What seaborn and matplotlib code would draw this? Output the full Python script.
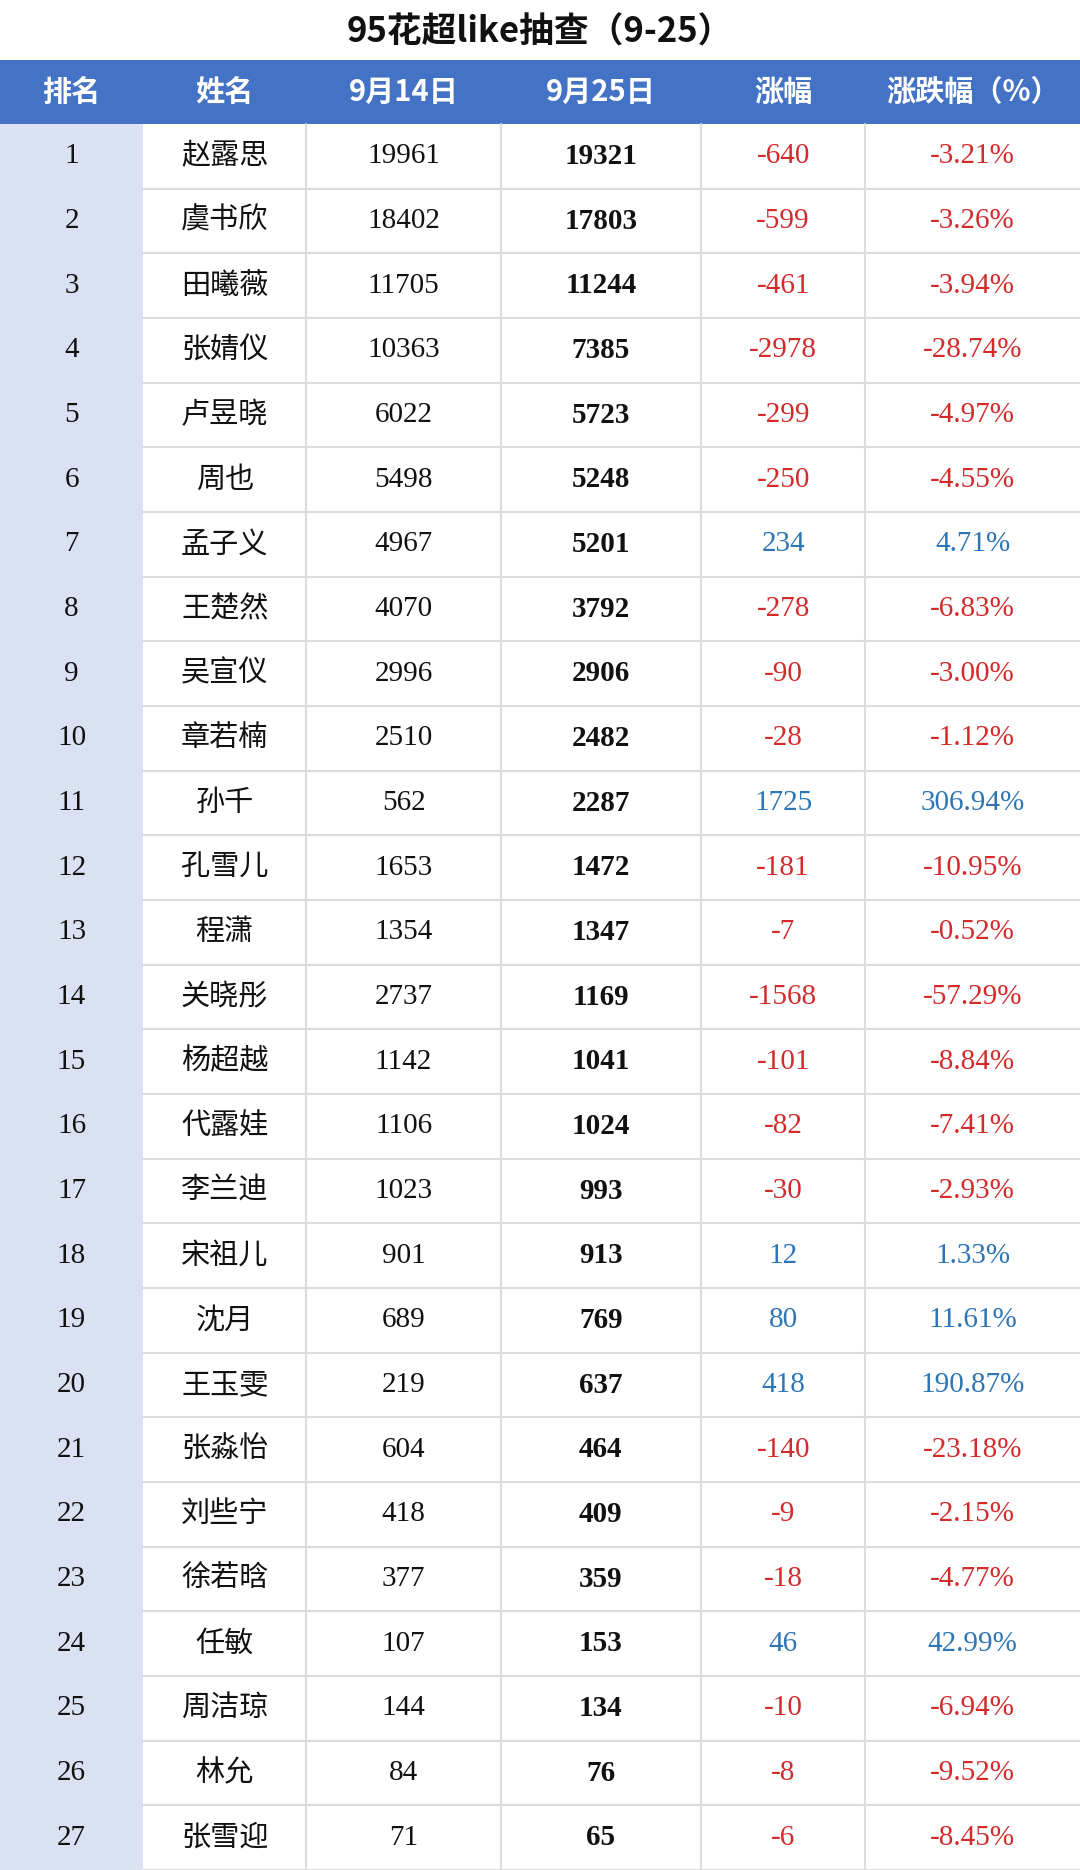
import matplotlib
matplotlib.use("Agg")
import matplotlib.pyplot as plt
import seaborn as sns
from matplotlib.patches import Rectangle

sns.set_theme(style="white")
plt.rcParams['font.family'] = ['Noto Sans CJK SC', 'DejaVu Sans']

title = "95花超like抽查（9-25）"
headers = ["排名", "姓名", "9月14日", "9月25日", "涨幅", "涨跌幅（%）"]
ranks = list(range(1, 28))
names = ["赵露思", "虞书欣", "田曦薇", "张婧仪", "卢昱晓", "周也", "孟子义", "王楚然", "吴宣仪", "章若楠",
         "孙千", "孔雪儿", "程潇", "关晓彤", "杨超越", "代露娃", "李兰迪", "宋祖儿", "沈月", "王玉雯",
         "张淼怡", "刘些宁", "徐若晗", "任敏", "周洁琼", "林允", "张雪迎"]
sep14 = [19961, 18402, 11705, 10363, 6022, 5498, 4967, 4070, 2996, 2510, 562, 1653, 1354, 2737, 1142,
         1106, 1023, 901, 689, 219, 604, 418, 377, 107, 144, 84, 71]
sep25 = [19321, 17803, 11244, 7385, 5723, 5248, 5201, 3792, 2906, 2482, 2287, 1472, 1347, 1169, 1041,
         1024, 993, 913, 769, 637, 464, 409, 359, 153, 134, 76, 65]
change = [-640, -599, -461, -2978, -299, -250, 234, -278, -90, -28, 1725, -181, -7, -1568, -101,
          -82, -30, 12, 80, 418, -140, -9, -18, 46, -10, -8, -6]
pct = ["-3.21%", "-3.26%", "-3.94%", "-28.74%", "-4.97%", "-4.55%", "4.71%", "-6.83%", "-3.00%", "-1.12%",
       "306.94%", "-10.95%", "-0.52%", "-57.29%", "-8.84%", "-7.41%", "-2.93%", "1.33%", "11.61%", "190.87%",
       "-23.18%", "-2.15%", "-4.77%", "42.99%", "-6.94%", "-9.52%", "-6.94%"]
pct[26] = "-8.45%"

W, H = 906, 1568
fig = plt.figure(figsize=(10.8, 18.7), dpi=100)
ax = fig.add_axes([0, 0, 1, 1])
ax.set_xlim(0, W)
ax.set_ylim(H, 0)
ax.axis("off")

cols = [0, 120, 257, 420, 588, 726, 906]
title_h, head_top, head_bot = 50, 50, 104
row_h = (H - head_bot) / len(ranks)

BLUE_HEAD = "#4472C4"
RANK_BG = "#D9E1F2"
RED = "#D42A2A"
BLUE = "#2E75B6"
GRID = "#DCDCDC"

ax.text(W / 2, 27, title, ha="center", va="center", fontsize=25, fontweight="bold", color="#111111")
ax.add_patch(Rectangle((0, head_top), W, head_bot - head_top, color=BLUE_HEAD, lw=0))
for i, h in enumerate(headers):
    ax.text((cols[i] + cols[i + 1]) / 2, (head_top + head_bot) / 2, h, ha="center", va="center",
            fontsize=21, color="white", fontweight="bold")
ax.add_patch(Rectangle((0, head_bot), cols[1], H - head_bot, color=RANK_BG, lw=0))

serif = ["Liberation Serif", "DejaVu Serif"]
for r in range(len(ranks)):
    y0 = head_bot + r * row_h
    yc = y0 + row_h / 2
    ax.plot([cols[1], W], [y0 + row_h, y0 + row_h], color=GRID, lw=1.5)
    c = RED if change[r] < 0 else BLUE
    ax.text((cols[0] + cols[1]) / 2, yc, str(ranks[r]), ha="center", va="center", fontsize=21, family=serif, color="#111111")
    ax.text((cols[1] + cols[2]) / 2, yc, names[r], ha="center", va="center", fontsize=21, color="#111111")
    ax.text((cols[2] + cols[3]) / 2, yc, str(sep14[r]), ha="center", va="center", fontsize=21, family=serif, color="#111111")
    ax.text((cols[3] + cols[4]) / 2, yc, str(sep25[r]), ha="center", va="center", fontsize=21, family=serif, color="#111111", fontweight="bold")
    ax.text((cols[4] + cols[5]) / 2, yc, str(change[r]), ha="center", va="center", fontsize=21, family=serif, color=c)
    ax.text((cols[5] + cols[6]) / 2, yc, pct[r], ha="center", va="center", fontsize=21, family=serif, color=c)
for x in cols[2:-1]:
    ax.plot([x, x], [head_bot, H], color=GRID, lw=1.5)

fig.savefig("out.png", dpi=100)
